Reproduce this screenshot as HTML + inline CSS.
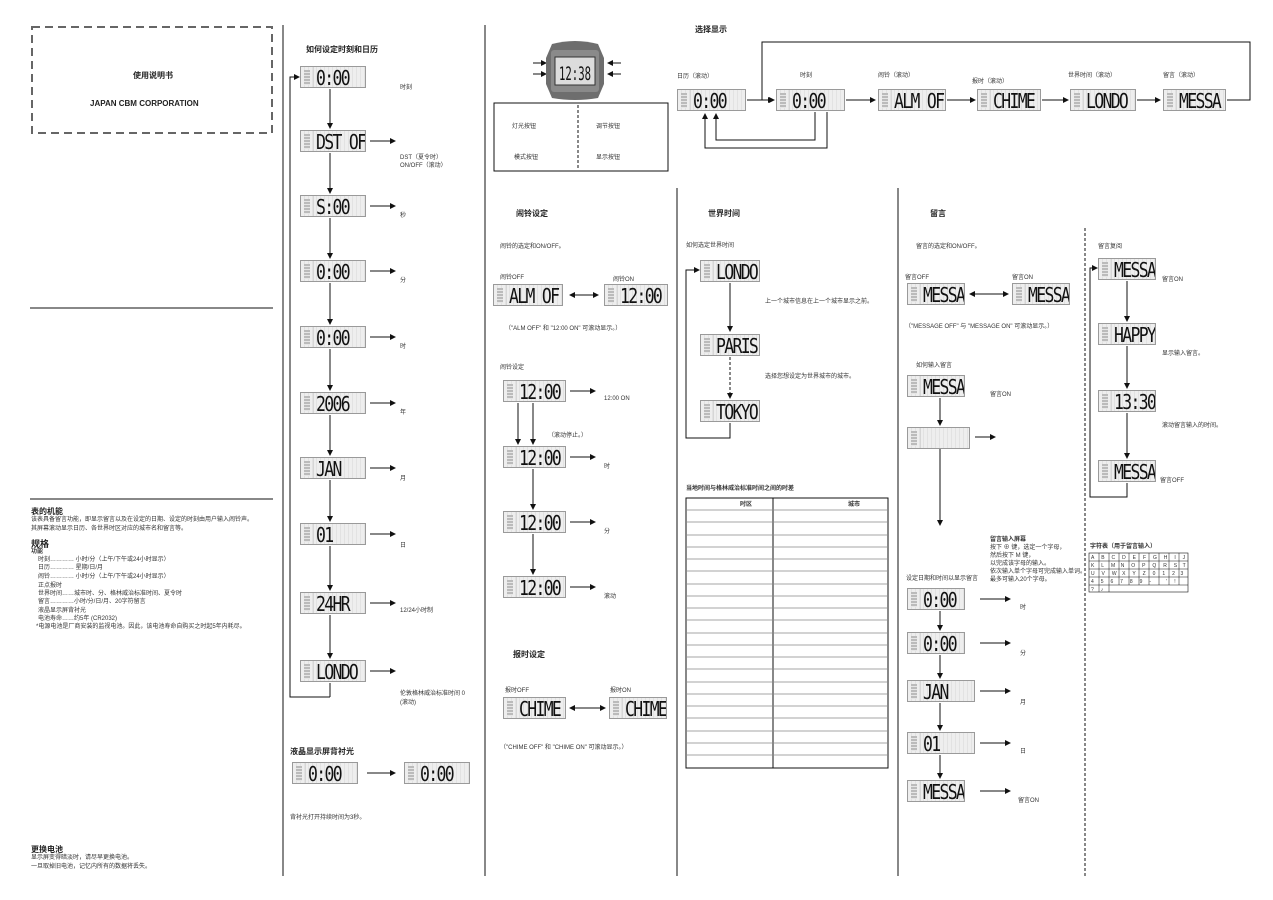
<!DOCTYPE html>
<html><head><meta charset="utf-8"><style>
*{margin:0;padding:0;box-sizing:border-box}
body{width:1273px;height:900px;background:#fff;position:relative;overflow:hidden;font-family:"Liberation Sans","Noto Sans CJK SC",sans-serif;color:#333}
.t{position:absolute;font-size:6px;line-height:8px;white-space:nowrap}
.h{position:absolute;font-size:8px;font-weight:bold;white-space:nowrap;color:#222}
.lcd{position:absolute;background:#eee;border:1px solid #9a9a9a;height:22px;overflow:hidden;
background-image:linear-gradient(90deg,transparent 0 12px,#d6d6d6 12px 13px,transparent 13px),repeating-linear-gradient(90deg,transparent 0 3px,#e2e2e2 3px 4px);}
.lcd:before{content:"";position:absolute;left:3px;top:3px;width:6px;height:15px;background:repeating-linear-gradient(#bbb 0 2px,#e6e6e6 2px 3px)}
.lcd span{position:absolute;left:15px;top:-1px;white-space:nowrap;font-family:"DejaVu Sans Mono","Liberation Mono",monospace;font-size:20px;line-height:24px;letter-spacing:-2px;color:#111;transform:scaleX(.82);transform-origin:0 0}
svg{position:absolute;left:0;top:0}
</style></head><body>
<svg width="1273" height="900">
<defs><marker id="a" markerWidth="6" markerHeight="6" refX="5" refY="3" orient="auto"><path d="M0,0L6,3L0,6z" fill="#111"/></marker>
<marker id="b" markerWidth="6" markerHeight="6" refX="1" refY="3" orient="auto"><path d="M6,0L0,3L6,6z" fill="#111"/></marker></defs>
<g stroke="#111" stroke-width="1" fill="none">
<rect x="32" y="27" width="240" height="106" stroke="#666" stroke-width="2" stroke-dasharray="8,5"/>
<line x1="30" y1="308" x2="273" y2="308"/><line x1="30" y1="499" x2="273" y2="499"/>
<line x1="283" y1="25" x2="283" y2="876"/><line x1="485" y1="25" x2="485" y2="876"/>
<line x1="677" y1="188" x2="677" y2="876"/><line x1="898" y1="188" x2="898" y2="876"/>
<line x1="1085" y1="228" x2="1085" y2="876" stroke-dasharray="3,2"/>
<polyline points="330,697 290,697 290,77 299,77" marker-end="url(#a)"/>
<line x1="330" y1="89" x2="330" y2="128" marker-end="url(#a)"/>
<line x1="330" y1="153" x2="330" y2="193" marker-end="url(#a)"/>
<line x1="330" y1="218" x2="330" y2="258" marker-end="url(#a)"/>
<line x1="330" y1="283" x2="330" y2="324" marker-end="url(#a)"/>
<line x1="330" y1="349" x2="330" y2="390" marker-end="url(#a)"/>
<line x1="330" y1="415" x2="330" y2="455" marker-end="url(#a)"/>
<line x1="330" y1="480" x2="330" y2="521" marker-end="url(#a)"/>
<line x1="330" y1="546" x2="330" y2="590" marker-end="url(#a)"/>
<line x1="330" y1="615" x2="330" y2="658" marker-end="url(#a)"/>
<line x1="330" y1="683" x2="330" y2="697"/>
<line x1="370" y1="141" x2="395" y2="141" marker-end="url(#a)"/>
<line x1="370" y1="206" x2="395" y2="206" marker-end="url(#a)"/>
<line x1="370" y1="271" x2="395" y2="271" marker-end="url(#a)"/>
<line x1="370" y1="337" x2="395" y2="337" marker-end="url(#a)"/>
<line x1="370" y1="403" x2="395" y2="403" marker-end="url(#a)"/>
<line x1="370" y1="468" x2="395" y2="468" marker-end="url(#a)"/>
<line x1="370" y1="534" x2="395" y2="534" marker-end="url(#a)"/>
<line x1="370" y1="603" x2="395" y2="603" marker-end="url(#a)"/>
<line x1="370" y1="671" x2="395" y2="671" marker-end="url(#a)"/>
<line x1="367" y1="773" x2="395" y2="773" marker-end="url(#a)"/>
<rect x="494" y="103" width="174" height="68"/>
<line x1="578" y1="105" x2="578" y2="169" stroke-dasharray="3,2"/>
<line x1="533" y1="63" x2="546" y2="63" marker-end="url(#a)"/><line x1="533" y1="74" x2="546" y2="74" marker-end="url(#a)"/>
<line x1="621" y1="63" x2="608" y2="63" marker-end="url(#a)"/><line x1="621" y1="74" x2="608" y2="74" marker-end="url(#a)"/>
<line x1="747" y1="100" x2="773" y2="100" marker-end="url(#a)"/>
<line x1="846" y1="100" x2="875" y2="100" marker-end="url(#a)"/>
<line x1="947" y1="100" x2="975" y2="100" marker-end="url(#a)"/>
<line x1="1042" y1="100" x2="1068" y2="100" marker-end="url(#a)"/>
<line x1="1137" y1="100" x2="1160" y2="100" marker-end="url(#a)"/>
<polyline points="1227,100 1250,100 1250,42 762,42 762,100 774,100" marker-end="url(#a)"/>
<polyline points="827,112 827,148 705,148 705,114" marker-end="url(#a)"/>
<polyline points="815,112 815,140 716,140 716,114" marker-end="url(#a)"/>
<line x1="570" y1="295" x2="598" y2="295" marker-end="url(#a)" marker-start="url(#b)"/>
<line x1="533" y1="403" x2="533" y2="444" marker-end="url(#a)"/>
<line x1="533" y1="469" x2="533" y2="509" marker-end="url(#a)"/>
<line x1="533" y1="534" x2="533" y2="574" marker-end="url(#a)"/>
<line x1="518" y1="403" x2="518" y2="444" marker-end="url(#a)"/>
<line x1="570" y1="391" x2="595" y2="391" marker-end="url(#a)"/>
<line x1="570" y1="457" x2="595" y2="457" marker-end="url(#a)"/>
<line x1="570" y1="522" x2="595" y2="522" marker-end="url(#a)"/>
<line x1="570" y1="587" x2="595" y2="587" marker-end="url(#a)"/>
<line x1="570" y1="708" x2="605" y2="708" marker-end="url(#a)" marker-start="url(#b)"/>
<polyline points="730,423 730,438 686,438 686,270 699,270" marker-end="url(#a)"/>
<line x1="730" y1="283" x2="730" y2="331" marker-end="url(#a)"/>
<line x1="730" y1="357" x2="730" y2="398" stroke-dasharray="3,2" marker-end="url(#a)"/>
<rect x="686" y="498" width="202" height="270"/>
<line x1="773" y1="498" x2="773" y2="768"/>
<line x1="970" y1="294" x2="1008" y2="294" marker-end="url(#a)" marker-start="url(#b)"/>
<line x1="940" y1="398" x2="940" y2="425" marker-end="url(#a)"/>
<line x1="975" y1="437" x2="995" y2="437" marker-end="url(#a)"/>
<line x1="940" y1="448" x2="940" y2="525" marker-end="url(#a)"/>
<line x1="940" y1="611" x2="940" y2="630" marker-end="url(#a)"/>
<line x1="940" y1="655" x2="940" y2="678" marker-end="url(#a)"/>
<line x1="940" y1="703" x2="940" y2="730" marker-end="url(#a)"/>
<line x1="940" y1="755" x2="940" y2="778" marker-end="url(#a)"/>
<line x1="980" y1="599" x2="1010" y2="599" marker-end="url(#a)"/>
<line x1="980" y1="643" x2="1010" y2="643" marker-end="url(#a)"/>
<line x1="980" y1="691" x2="1010" y2="691" marker-end="url(#a)"/>
<line x1="980" y1="743" x2="1010" y2="743" marker-end="url(#a)"/>
<line x1="980" y1="791" x2="1010" y2="791" marker-end="url(#a)"/>
<polyline points="1127,483 1127,497 1090,497 1090,268 1097,268" marker-end="url(#a)"/>
<line x1="1127" y1="281" x2="1127" y2="321" marker-end="url(#a)"/>
<line x1="1127" y1="346" x2="1127" y2="388" marker-end="url(#a)"/>
<line x1="1127" y1="413" x2="1127" y2="458" marker-end="url(#a)"/>
<rect x="1089" y="553" width="99" height="39" stroke-width=".6"/>
<g stroke-width=".5"><line x1="1089" y1="561" x2="1188" y2="561"/><line x1="1089" y1="569" x2="1188" y2="569"/><line x1="1089" y1="577" x2="1188" y2="577"/><line x1="1089" y1="585" x2="1188" y2="585"/>
<line x1="1099" y1="553" x2="1099" y2="592"/><line x1="1109" y1="553" x2="1109" y2="592"/><line x1="1119" y1="553" x2="1119" y2="585"/><line x1="1129" y1="553" x2="1129" y2="585"/><line x1="1139" y1="553" x2="1139" y2="585"/><line x1="1149" y1="553" x2="1149" y2="585"/><line x1="1159" y1="553" x2="1159" y2="585"/><line x1="1169" y1="553" x2="1169" y2="585"/><line x1="1179" y1="553" x2="1179" y2="585"/></g>
</g>
<g stroke="#888" stroke-width=".7">
<line x1="686" y1="510" x2="888" y2="510"/><line x1="686" y1="522" x2="888" y2="522"/><line x1="686" y1="535" x2="888" y2="535"/><line x1="686" y1="547" x2="888" y2="547"/><line x1="686" y1="559" x2="888" y2="559"/><line x1="686" y1="571" x2="888" y2="571"/><line x1="686" y1="584" x2="888" y2="584"/><line x1="686" y1="596" x2="888" y2="596"/><line x1="686" y1="608" x2="888" y2="608"/><line x1="686" y1="620" x2="888" y2="620"/><line x1="686" y1="633" x2="888" y2="633"/><line x1="686" y1="645" x2="888" y2="645"/><line x1="686" y1="657" x2="888" y2="657"/><line x1="686" y1="669" x2="888" y2="669"/><line x1="686" y1="682" x2="888" y2="682"/><line x1="686" y1="694" x2="888" y2="694"/><line x1="686" y1="706" x2="888" y2="706"/><line x1="686" y1="718" x2="888" y2="718"/><line x1="686" y1="731" x2="888" y2="731"/><line x1="686" y1="743" x2="888" y2="743"/><line x1="686" y1="755" x2="888" y2="755"/>
</g>
<path d="M552,44 Q575,38 598,44 L604,58 L604,84 L598,98 Q575,102 552,98 L546,84 L546,58 Z" fill="#6e6e6e"/>
<rect x="551" y="50" width="48" height="42" rx="3" fill="#8a8a8a"/>
<rect x="555" y="57" width="40" height="28" fill="#dcdcdc" stroke="#333"/>
<text x="559" y="80" font-family="DejaVu Sans Mono" font-size="19" fill="#111" textLength="32" lengthAdjust="spacingAndGlyphs">12:38</text>
</svg>

<div class="h" style="left:133px;top:70px">使用说明书</div>
<div class="h" style="left:90px;top:99px">JAPAN CBM CORPORATION</div>
<div class="h" style="left:31px;top:506px;font-size:8px">表的机能</div>
<div class="t" style="left:31px;top:516px">该表具备留言功能，即显示留言以及在设定的日期、设定的时刻由用户输入闹铃声。</div>
<div class="t" style="left:31px;top:525px">其屏幕滚动显示日历、各世界时区对应的城市名和留言等。</div>
<div class="h" style="left:31px;top:537px;font-size:9px">规格</div>
<div class="t" style="left:31px;top:548px;font-weight:bold">功能</div>
<div class="t" style="left:38px;top:556px">时刻………… 小时/分（上午/下午或24小时显示）</div>
<div class="t" style="left:38px;top:564px">日历………… 星期/日/月</div>
<div class="t" style="left:38px;top:573px">闹铃………… 小时/分（上午/下午或24小时显示）</div>
<div class="t" style="left:38px;top:582px">正点报时</div>
<div class="t" style="left:38px;top:590px">世界时间……城市时、分、格林威治标准时间、夏令时</div>
<div class="t" style="left:38px;top:598px">留言…………小时/分/日/月、20字符留言</div>
<div class="t" style="left:38px;top:607px">液晶显示屏背衬光</div>
<div class="t" style="left:38px;top:615px">电池寿命……约5年 (CR2032)</div>
<div class="t" style="left:36px;top:623px">*电源电池是厂商安装的监视电池。因此，该电池寿命自购买之时起5年内耗尽。</div>
<div class="h" style="left:31px;top:844px">更换电池</div>
<div class="t" style="left:31px;top:854px">显示屏变得暗淡时，请尽早更换电池。</div>
<div class="t" style="left:31px;top:863px">一旦取掉旧电池，记忆内所有的数据将丢失。</div>

<div class="h" style="left:306px;top:44px">如何设定时刻和日历</div>
<div class="lcd" style="left:300px;top:66px;width:66px"><span>0:00</span></div>
<div class="lcd" style="left:300px;top:130px;width:66px"><span>DST OF</span></div>
<div class="lcd" style="left:300px;top:195px;width:66px"><span>S:00</span></div>
<div class="lcd" style="left:300px;top:260px;width:66px"><span>0:00</span></div>
<div class="lcd" style="left:300px;top:326px;width:66px"><span>0:00</span></div>
<div class="lcd" style="left:300px;top:392px;width:66px"><span>2006</span></div>
<div class="lcd" style="left:300px;top:457px;width:66px"><span>JAN</span></div>
<div class="lcd" style="left:300px;top:523px;width:66px"><span>01</span></div>
<div class="lcd" style="left:300px;top:592px;width:66px"><span>24HR</span></div>
<div class="lcd" style="left:300px;top:660px;width:66px"><span>LONDO</span></div>
<div class="t" style="left:400px;top:84px">时刻</div>
<div class="t" style="left:400px;top:154px">DST（夏令时）</div>
<div class="t" style="left:400px;top:162px">ON/OFF（滚动）</div>
<div class="t" style="left:400px;top:212px">秒</div>
<div class="t" style="left:400px;top:277px">分</div>
<div class="t" style="left:400px;top:343px">时</div>
<div class="t" style="left:400px;top:409px">年</div>
<div class="t" style="left:400px;top:475px">月</div>
<div class="t" style="left:400px;top:542px">日</div>
<div class="t" style="left:400px;top:607px">12/24小时制</div>
<div class="t" style="left:400px;top:690px">伦敦格林威治标准时间 0</div>
<div class="t" style="left:400px;top:699px">(滚动)</div>
<div class="h" style="left:290px;top:746px">液晶显示屏背衬光</div>
<div class="lcd" style="left:292px;top:762px;width:66px"><span>0:00</span></div>
<div class="lcd" style="left:404px;top:762px;width:66px"><span>0:00</span></div>
<div class="t" style="left:290px;top:814px">背衬光打开持续时间为3秒。</div>

<div class="t" style="left:512px;top:123px">灯光按钮</div>
<div class="t" style="left:596px;top:123px">调节按钮</div>
<div class="t" style="left:514px;top:154px">模式按钮</div>
<div class="t" style="left:596px;top:154px">显示按钮</div>

<div class="h" style="left:695px;top:24px">选择显示</div>
<div class="t" style="left:677px;top:73px">日历（滚动）</div>
<div class="t" style="left:800px;top:72px">时刻</div>
<div class="t" style="left:878px;top:72px">闹铃（滚动）</div>
<div class="t" style="left:972px;top:78px">报时（滚动）</div>
<div class="t" style="left:1068px;top:72px">世界时间（滚动）</div>
<div class="t" style="left:1163px;top:72px">留言（滚动）</div>
<div class="lcd" style="left:677px;top:89px;width:69px"><span>0:00</span></div>
<div class="lcd" style="left:776px;top:89px;width:69px"><span>0:00</span></div>
<div class="lcd" style="left:878px;top:89px;width:68px"><span>ALM OF</span></div>
<div class="lcd" style="left:977px;top:89px;width:64px"><span>CHIME</span></div>
<div class="lcd" style="left:1070px;top:89px;width:66px"><span>LONDO</span></div>
<div class="lcd" style="left:1163px;top:89px;width:63px"><span>MESSA</span></div>

<div class="h" style="left:516px;top:208px">闹铃设定</div>
<div class="t" style="left:500px;top:243px">闹铃的选定和ON/OFF。</div>
<div class="t" style="left:500px;top:274px">闹铃OFF</div>
<div class="t" style="left:613px;top:276px">闹铃ON</div>
<div class="lcd" style="left:493px;top:284px;width:70px"><span>ALM OF</span></div>
<div class="lcd" style="left:604px;top:284px;width:64px"><span>12:00</span></div>
<div class="t" style="left:505px;top:325px">（"ALM OFF" 和 "12:00 ON" 可滚动显示。）</div>
<div class="t" style="left:500px;top:364px">闹铃设定</div>
<div class="lcd" style="left:503px;top:380px;width:63px"><span>12:00</span></div>
<div class="lcd" style="left:503px;top:446px;width:63px"><span>12:00</span></div>
<div class="lcd" style="left:503px;top:511px;width:63px"><span>12:00</span></div>
<div class="lcd" style="left:503px;top:576px;width:63px"><span>12:00</span></div>
<div class="t" style="left:604px;top:395px">12:00 ON</div>
<div class="t" style="left:548px;top:432px">（滚动停止。）</div>
<div class="t" style="left:604px;top:463px">时</div>
<div class="t" style="left:604px;top:528px">分</div>
<div class="t" style="left:604px;top:593px">滚动</div>
<div class="h" style="left:513px;top:649px">报时设定</div>
<div class="t" style="left:505px;top:687px">报时OFF</div>
<div class="t" style="left:610px;top:687px">报时ON</div>
<div class="lcd" style="left:503px;top:697px;width:63px"><span>CHIME</span></div>
<div class="lcd" style="left:609px;top:697px;width:58px"><span>CHIME</span></div>
<div class="t" style="left:500px;top:744px">（"CHIME OFF" 和 "CHIME ON" 可滚动显示。）</div>

<div class="h" style="left:708px;top:208px">世界时间</div>
<div class="t" style="left:686px;top:242px">如何选定世界时间</div>
<div class="lcd" style="left:700px;top:260px;width:60px"><span>LONDO</span></div>
<div class="lcd" style="left:700px;top:334px;width:60px"><span>PARIS</span></div>
<div class="lcd" style="left:700px;top:400px;width:60px"><span>TOKYO</span></div>
<div class="t" style="left:765px;top:298px">上一个城市信息在上一个城市显示之前。</div>
<div class="t" style="left:765px;top:373px">选择您想设定为世界城市的城市。</div>
<div class="t" style="left:686px;top:485px;font-weight:bold">当地时间与格林威治标准时间之间的时差</div>
<div class="t" style="left:740px;top:501px;font-weight:bold">时区</div>
<div class="t" style="left:848px;top:501px;font-weight:bold">城市</div>

<div class="h" style="left:930px;top:208px">留言</div>
<div class="t" style="left:916px;top:243px">留言的选定和ON/OFF。</div>
<div class="t" style="left:905px;top:274px">留言OFF</div>
<div class="t" style="left:1012px;top:274px">留言ON</div>
<div class="lcd" style="left:907px;top:283px;width:58px"><span>MESSA</span></div>
<div class="lcd" style="left:1012px;top:283px;width:58px"><span>MESSA</span></div>
<div class="t" style="left:905px;top:323px">（"MESSAGE OFF" 与 "MESSAGE ON" 可滚动显示。）</div>
<div class="t" style="left:916px;top:362px">如何输入留言</div>
<div class="lcd" style="left:907px;top:375px;width:58px"><span>MESSA</span></div>
<div class="t" style="left:990px;top:391px">留言ON</div>
<div class="lcd" style="left:907px;top:427px;width:63px"><span></span></div>
<div class="t" style="left:990px;top:536px;font-weight:bold">留言输入屏幕</div>
<div class="t" style="left:990px;top:544px">按下 ⊕ 键，选定一个字母，</div>
<div class="t" style="left:990px;top:552px">然后按下 M 键，</div>
<div class="t" style="left:990px;top:560px">以完成该字母的输入。</div>
<div class="t" style="left:990px;top:568px">依次输入单个字母可完成输入单词。</div>
<div class="t" style="left:990px;top:576px">最多可输入20个字母。</div>
<div class="t" style="left:906px;top:575px">设定日期和时间以显示留言</div>
<div class="lcd" style="left:907px;top:588px;width:58px"><span>0:00</span></div>
<div class="lcd" style="left:907px;top:632px;width:58px"><span>0:00</span></div>
<div class="lcd" style="left:907px;top:680px;width:68px"><span>JAN</span></div>
<div class="lcd" style="left:907px;top:732px;width:68px"><span>01</span></div>
<div class="lcd" style="left:907px;top:780px;width:58px"><span>MESSA</span></div>
<div class="t" style="left:1020px;top:604px">时</div>
<div class="t" style="left:1020px;top:650px">分</div>
<div class="t" style="left:1020px;top:699px">月</div>
<div class="t" style="left:1020px;top:748px">日</div>
<div class="t" style="left:1018px;top:797px">留言ON</div>

<div class="t" style="left:1098px;top:243px">留言复阅</div>
<div class="lcd" style="left:1098px;top:258px;width:58px"><span>MESSA</span></div>
<div class="lcd" style="left:1098px;top:323px;width:58px"><span>HAPPY</span></div>
<div class="lcd" style="left:1098px;top:390px;width:58px"><span>13:30</span></div>
<div class="lcd" style="left:1098px;top:460px;width:58px"><span>MESSA</span></div>
<div class="t" style="left:1162px;top:276px">留言ON</div>
<div class="t" style="left:1162px;top:350px">显示输入留言。</div>
<div class="t" style="left:1162px;top:422px">滚动留言输入的时间。</div>
<div class="t" style="left:1160px;top:477px">留言OFF</div>
<div class="t" style="left:1090px;top:543px;font-weight:bold">字符表（用于留言输入）</div>
<div class="t" style="left:1091px;top:554px;font-size:5px">A&nbsp;&nbsp;&nbsp;&nbsp;&nbsp;B&nbsp;&nbsp;&nbsp;&nbsp;&nbsp;C&nbsp;&nbsp;&nbsp;&nbsp;&nbsp;D&nbsp;&nbsp;&nbsp;&nbsp;&nbsp;E&nbsp;&nbsp;&nbsp;&nbsp;&nbsp;F&nbsp;&nbsp;&nbsp;&nbsp;&nbsp;G&nbsp;&nbsp;&nbsp;&nbsp;&nbsp;H&nbsp;&nbsp;&nbsp;&nbsp;&nbsp;I&nbsp;&nbsp;&nbsp;&nbsp;&nbsp;J</div>
<div class="t" style="left:1091px;top:562px;font-size:5px">K&nbsp;&nbsp;&nbsp;&nbsp;&nbsp;L&nbsp;&nbsp;&nbsp;&nbsp;&nbsp;M&nbsp;&nbsp;&nbsp;&nbsp;N&nbsp;&nbsp;&nbsp;&nbsp;&nbsp;O&nbsp;&nbsp;&nbsp;&nbsp;&nbsp;P&nbsp;&nbsp;&nbsp;&nbsp;&nbsp;Q&nbsp;&nbsp;&nbsp;&nbsp;&nbsp;R&nbsp;&nbsp;&nbsp;&nbsp;&nbsp;S&nbsp;&nbsp;&nbsp;&nbsp;T</div>
<div class="t" style="left:1091px;top:570px;font-size:5px">U&nbsp;&nbsp;&nbsp;&nbsp;&nbsp;V&nbsp;&nbsp;&nbsp;&nbsp;&nbsp;W&nbsp;&nbsp;&nbsp;&nbsp;X&nbsp;&nbsp;&nbsp;&nbsp;&nbsp;Y&nbsp;&nbsp;&nbsp;&nbsp;&nbsp;Z&nbsp;&nbsp;&nbsp;&nbsp;&nbsp;0&nbsp;&nbsp;&nbsp;&nbsp;&nbsp;1&nbsp;&nbsp;&nbsp;&nbsp;&nbsp;2&nbsp;&nbsp;&nbsp;&nbsp;3</div>
<div class="t" style="left:1091px;top:578px;font-size:5px">4&nbsp;&nbsp;&nbsp;&nbsp;&nbsp;5&nbsp;&nbsp;&nbsp;&nbsp;&nbsp;6&nbsp;&nbsp;&nbsp;&nbsp;&nbsp;7&nbsp;&nbsp;&nbsp;&nbsp;&nbsp;8&nbsp;&nbsp;&nbsp;&nbsp;&nbsp;9&nbsp;&nbsp;&nbsp;&nbsp;&nbsp;-&nbsp;&nbsp;&nbsp;&nbsp;&nbsp;&nbsp;&nbsp;&nbsp;&nbsp;&nbsp;&nbsp;'&nbsp;&nbsp;&nbsp;&nbsp;&nbsp;!</div>
<div class="t" style="left:1091px;top:586px;font-size:5px">?&nbsp;&nbsp;&nbsp;&nbsp;&nbsp;♪</div>
</body></html>
